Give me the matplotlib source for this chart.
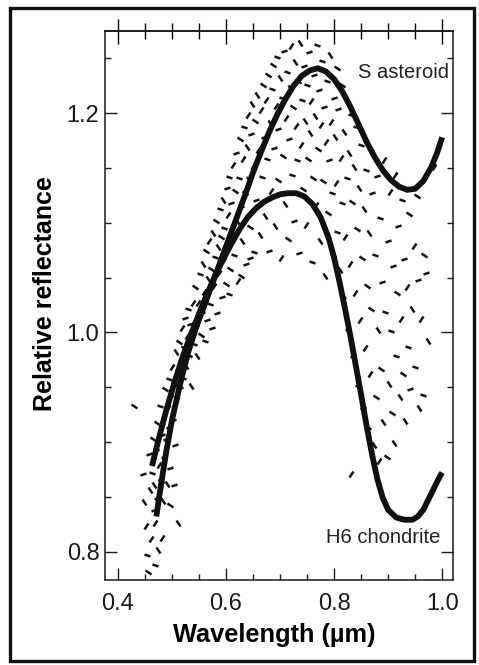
import matplotlib
matplotlib.use("Agg")
import matplotlib.pyplot as plt
from matplotlib.markers import MarkerStyle
from matplotlib.transforms import Affine2D
from matplotlib.patches import Rectangle
from matplotlib.ticker import MultipleLocator

plt.rcParams['font.family'] = ['Liberation Sans', 'DejaVu Sans']

# ---- data ----
s_wavelength = [0.471, 0.48, 0.49, 0.50, 0.515, 0.53, 0.545, 0.56, 0.575, 0.59, 0.605,
                0.62, 0.635, 0.65, 0.665, 0.68, 0.695, 0.71, 0.725, 0.74, 0.755, 0.77,
                0.785, 0.80, 0.815, 0.83, 0.845, 0.86, 0.875, 0.89, 0.905, 0.92, 0.935,
                0.95, 0.965, 0.98, 0.99, 1.0]
s_reflectance = [0.832, 0.862, 0.893, 0.920, 0.953, 0.982, 1.005, 1.025, 1.045, 1.065, 1.085,
                 1.105, 1.125, 1.146, 1.165, 1.183, 1.199, 1.213, 1.225, 1.234, 1.239, 1.241,
                 1.238, 1.231, 1.220, 1.206, 1.190, 1.174, 1.160, 1.148, 1.139, 1.133, 1.130,
                 1.131, 1.138, 1.151, 1.163, 1.178]

h6_wavelength = [0.463, 0.475, 0.49, 0.505, 0.52, 0.535, 0.55, 0.565, 0.58, 0.595, 0.61,
                 0.625, 0.64, 0.655, 0.67, 0.685, 0.70, 0.715, 0.73, 0.745, 0.76, 0.775,
                 0.79, 0.80, 0.81, 0.82, 0.83, 0.84, 0.85, 0.86, 0.87, 0.88, 0.89, 0.90,
                 0.915, 0.93, 0.945, 0.955, 0.965, 0.975, 0.985, 0.995, 1.0]
h6_reflectance = [0.878, 0.902, 0.930, 0.955, 0.978, 0.998, 1.017, 1.035, 1.052, 1.067, 1.081,
                  1.094, 1.105, 1.113, 1.119, 1.123, 1.126, 1.127, 1.127, 1.124, 1.117, 1.105,
                  1.086, 1.068, 1.046, 1.022, 0.997, 0.970, 0.943, 0.915, 0.889, 0.866, 0.849,
                  0.838, 0.831, 0.829, 0.829, 0.832, 0.838, 0.848, 0.858, 0.868, 0.872]

# individual measurements (dashes), read region by region
scatter_points = [
    # lower-left band
    (0.429, 0.933), (0.446, 0.871), (0.449, 0.845), (0.451, 0.823), (0.453, 0.797), (0.456, 0.781),
    (0.458, 0.889), (0.459, 0.856), (0.461, 0.811), (0.463, 0.872), (0.464, 0.903), (0.466, 0.838),
    (0.467, 0.861), (0.468, 0.826), (0.470, 0.894), (0.472, 0.917), (0.473, 0.849), (0.474, 0.801),
    (0.476, 0.879), (0.478, 0.933), (0.479, 0.864), (0.481, 0.906), (0.483, 0.846), (0.484, 0.921),
    (0.486, 0.885), (0.487, 0.948), (0.489, 0.903), (0.490, 0.862), (0.492, 0.931), (0.494, 0.957),
    (0.495, 0.912), (0.497, 0.876), (0.499, 0.944), (0.500, 0.968), (0.502, 0.921), (0.504, 0.953),
    (0.506, 0.897), (0.507, 0.982), (0.509, 0.938), (0.511, 0.965), (0.513, 0.991), (0.515, 0.949),
    (0.516, 0.973), (0.518, 1.004), (0.520, 0.958), (0.522, 0.986), (0.524, 1.013), (0.526, 0.969),
    (0.528, 0.997), (0.530, 1.021), (0.532, 0.979), (0.534, 1.008), (0.536, 0.951), (0.538, 1.027),
    (0.540, 0.989), (0.497, 0.842), (0.503, 0.861), (0.511, 0.826), (0.482, 0.812), (0.469, 0.788),
    # rising middle
    (0.543, 1.041), (0.545, 1.006), (0.547, 0.978), (0.549, 1.027), (0.552, 1.053), (0.553, 0.998),
    (0.556, 1.018), (0.558, 1.062), (0.559, 1.037), (0.561, 0.992), (0.563, 1.074), (0.565, 1.011),
    (0.567, 1.049), (0.569, 1.083), (0.571, 1.026), (0.572, 1.058), (0.574, 1.004), (0.576, 1.091),
    (0.578, 1.042), (0.579, 1.069), (0.581, 1.102), (0.583, 1.018), (0.585, 1.078), (0.587, 1.054),
    (0.589, 1.113), (0.590, 1.087), (0.592, 1.032), (0.594, 1.121), (0.596, 1.066), (0.597, 1.095),
    (0.599, 1.044), (0.601, 1.132), (0.603, 1.081), (0.604, 1.107), (0.606, 1.142), (0.608, 1.058),
    (0.610, 1.118), (0.612, 1.091), (0.613, 1.153), (0.615, 1.071), (0.617, 1.129), (0.619, 1.164),
    (0.621, 1.102), (0.622, 1.047), (0.624, 1.141), (0.626, 1.176), (0.628, 1.114), (0.629, 1.083),
    (0.631, 1.158), (0.633, 1.187), (0.635, 1.127), (0.637, 1.062), (0.639, 1.169), (0.641, 1.198),
    (0.642, 1.141), (0.644, 1.096), (0.646, 1.181), (0.648, 1.208), (0.650, 1.152), (0.652, 1.073),
    (0.654, 1.193), (0.656, 1.121), (0.658, 1.217), (0.660, 1.166), (0.606, 1.035), (0.627, 1.051),
    (0.645, 1.068),
    # around the peaks
    (0.662, 1.089), (0.664, 1.203), (0.666, 1.142), (0.668, 1.226), (0.670, 1.178), (0.672, 1.106),
    (0.674, 1.212), (0.676, 1.158), (0.677, 1.235), (0.679, 1.074), (0.681, 1.191), (0.683, 1.129),
    (0.685, 1.222), (0.686, 1.244), (0.688, 1.168), (0.690, 1.097), (0.692, 1.207), (0.694, 1.251),
    (0.696, 1.139), (0.697, 1.186), (0.699, 1.232), (0.701, 1.068), (0.703, 1.214), (0.705, 1.161),
    (0.707, 1.257), (0.709, 1.117), (0.711, 1.196), (0.712, 1.238), (0.714, 1.085), (0.716, 1.176),
    (0.718, 1.223), (0.720, 1.261), (0.722, 1.144), (0.724, 1.206), (0.725, 1.102), (0.727, 1.247),
    (0.729, 1.188), (0.731, 1.157), (0.733, 1.229), (0.735, 1.072), (0.737, 1.264), (0.738, 1.171),
    (0.740, 1.212), (0.742, 1.131), (0.744, 1.243), (0.746, 1.193), (0.748, 1.098), (0.750, 1.226),
    (0.751, 1.158), (0.753, 1.256), (0.755, 1.182), (0.757, 1.211), (0.759, 1.064), (0.761, 1.141),
    (0.763, 1.235), (0.764, 1.197), (0.766, 1.116), (0.768, 1.262), (0.770, 1.167), (0.772, 1.221),
    (0.774, 1.083), (0.776, 1.189), (0.777, 1.248), (0.779, 1.138), (0.781, 1.206), (0.783, 1.051),
    (0.785, 1.174), (0.787, 1.229), (0.789, 1.109), (0.790, 1.157), (0.792, 1.253), (0.794, 1.192),
    (0.796, 1.127), (0.798, 1.071), (0.800, 1.214),
    # between the descending limbs
    (0.801, 1.178), (0.803, 1.136), (0.805, 1.092), (0.806, 1.241), (0.808, 1.204), (0.810, 1.057),
    (0.812, 1.159), (0.814, 1.118), (0.815, 1.226), (0.817, 1.031), (0.819, 1.183), (0.821, 1.087),
    (0.823, 1.141), (0.824, 1.212), (0.826, 1.003), (0.828, 1.164), (0.830, 1.062), (0.832, 1.198),
    (0.833, 1.119), (0.835, 0.978), (0.837, 1.151), (0.839, 1.036), (0.841, 1.187), (0.842, 1.094),
    (0.844, 0.952), (0.846, 1.132), (0.848, 1.011), (0.850, 1.171), (0.851, 1.068), (0.853, 0.931),
    (0.855, 1.113), (0.857, 0.986), (0.859, 1.148), (0.860, 1.042), (0.862, 0.912), (0.864, 1.091),
    (0.866, 0.962), (0.868, 1.166), (0.869, 1.021), (0.871, 1.127), (0.873, 0.897), (0.831, 0.871),
    # right part
    (0.875, 1.071), (0.877, 0.941), (0.879, 1.143), (0.881, 1.002), (0.883, 0.883), (0.885, 1.104),
    (0.887, 0.967), (0.889, 1.046), (0.891, 0.918), (0.893, 1.157), (0.895, 1.019), (0.897, 0.886),
    (0.899, 1.083), (0.901, 0.953), (0.903, 1.128), (0.905, 1.001), (0.907, 0.926), (0.909, 1.061),
    (0.911, 0.899), (0.913, 1.144), (0.915, 0.978), (0.917, 1.036), (0.919, 1.097), (0.921, 0.941),
    (0.923, 1.012), (0.926, 1.121), (0.928, 0.962), (0.930, 1.067), (0.932, 0.919), (0.934, 1.041),
    (0.936, 0.987), (0.939, 1.108), (0.941, 0.948), (0.944, 1.021), (0.947, 1.079), (0.950, 0.968),
    (0.953, 1.124), (0.956, 1.048), (0.958, 0.931), (0.961, 1.012), (0.964, 0.943), (0.967, 1.071),
    (0.970, 1.054), (0.973, 0.992), (0.984, 1.151),
]
scatter_wavelength = [p[0] for p in scatter_points]
scatter_reflectance = [p[1] for p in scatter_points]

x_ticks = [0.4, 0.6, 0.8, 1.0]
y_ticks = [0.8, 1.0, 1.2]
x_ticklabels = ['0.4', '0.6', '0.8', '1.0']
y_ticklabels = ['0.8', '1.0', '1.2']

# ---- figure ----
W, H = 479, 665
fig = plt.figure(figsize=(W / 100, H / 100), dpi=100)
fig.patch.set_facecolor('white')

# outer frame of the scanned figure
fig.patches.append(Rectangle((10 / W, 1 - 661 / H), (474 - 10) / W, (661 - 8) / H,
                             transform=fig.transFigure, fill=False, lw=2.4,
                             edgecolor='#111111'))

ax = fig.add_axes([105 / W, 1 - 580 / H, (453 - 105) / W, (580 - 31) / H])
ax.set_xlim(0.376, 1.02)
ax.set_ylim(0.774, 1.275)

# scatter of individual dashes with varied stroke orientation
angles = [60, 115, 35, 140, 80]
for k, ang in enumerate(angles):
    ms = MarkerStyle('|', transform=Affine2D().rotate_deg(ang))
    ax.plot(scatter_wavelength[k::5], scatter_reflectance[k::5], ls='none',
            marker=ms, markersize=5.0, markeredgewidth=1.8, color='#151515')

ax.plot(s_wavelength, s_reflectance, color='#111111', lw=4.2,
        solid_capstyle='butt', solid_joinstyle='round')
ax.plot(h6_wavelength, h6_reflectance, color='#111111', lw=4.2,
        solid_capstyle='butt', solid_joinstyle='round')

ax.text(1.012, 1.237, 'S asteroid', ha='right', va='center', fontsize=14.5, color='#222222')
ax.text(0.997, 0.813, 'H6 chondrite', ha='right', va='center', fontsize=14.5, color='#222222')

for sp in ax.spines.values():
    sp.set_linewidth(1.1)
    sp.set_color('#1a1a1a')

ax.set_xticks(x_ticks)
ax.set_xticklabels(x_ticklabels)
ax.set_yticks(y_ticks)
ax.set_yticklabels(y_ticklabels)
ax.xaxis.set_minor_locator(MultipleLocator(0.05))
ax.yaxis.set_minor_locator(MultipleLocator(0.05))
ax.tick_params(axis='both', which='major', direction='in', length=8.5, width=1.0,
               labelsize=17, colors='#1a1a1a')
ax.tick_params(axis='both', which='minor', direction='in', length=4, width=1.0,
               colors='#1a1a1a')
ax.tick_params(axis='y', which='both', left=True, right=True)
ax.tick_params(axis='x', which='major', pad=9)
ax.tick_params(axis='y', which='major', pad=4)
ax.tick_params(axis='x', which='both', top=False)

top = ax.secondary_xaxis('top')
top.set_xticks(x_ticks)
top.xaxis.set_minor_locator(MultipleLocator(0.05))
top.tick_params(which='major', direction='inout', length=18, width=1.0, labeltop=False)
top.tick_params(which='minor', direction='inout', length=12, width=1.0)
top.spines['top'].set_linewidth(1.1)

ax.set_xlabel('Wavelength (µm)', fontsize=18.3, fontweight='bold', va='center')
ax.xaxis.set_label_coords((274 - 105) / 348, (580 - 635) / 549)
ax.set_ylabel('Relative reflectance', fontsize=18, fontweight='bold', va='center')
ax.yaxis.set_label_coords((45 - 105) / 348, (580 - 294) / 549)

fig.savefig('out.png', dpi=100, facecolor='white')
